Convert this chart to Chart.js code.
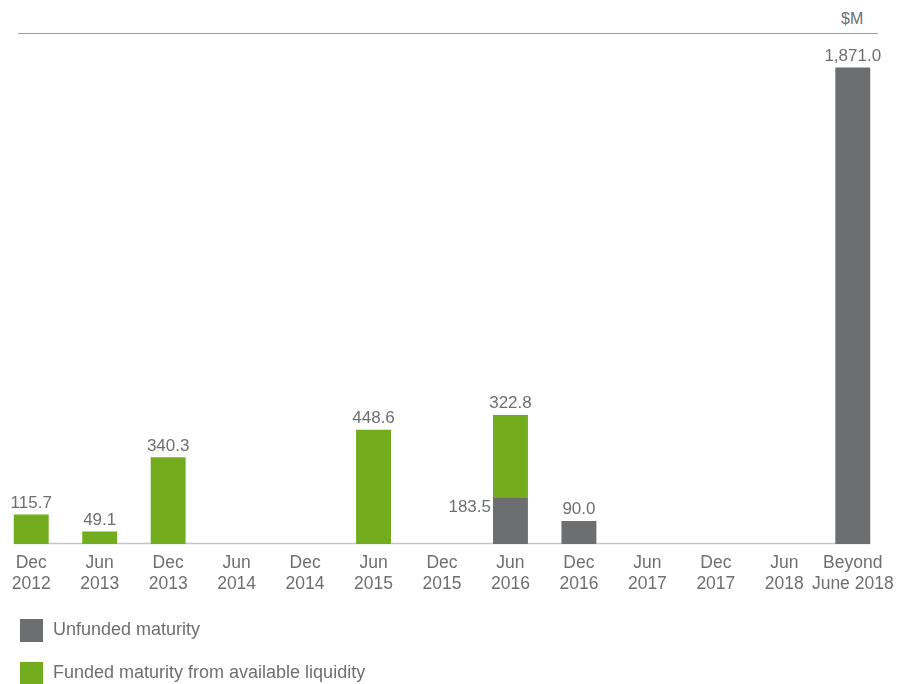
<!DOCTYPE html>
<html lang="en">
<head>
  <meta charset="UTF-8" />
  <title>Debt maturity profile</title>
  <script src="https://cdn.jsdelivr.net/npm/chart.js"></script>
  <style>
    html, body {
      margin: 0;
      padding: 0;
      background: #ffffff;
      overflow: hidden;
      width: 903px;
      height: 684px;
      font-family: "Liberation Sans", Arial, sans-serif;
      color: #6e6f71;
    }

    .unit {
      position: absolute;
      left: 841px;
      top: 10px;
      font-size: 16px;
    }

    .rule {
      position: absolute;
      left: 18px;
      top: 33px;
      width: 860px;
      height: 0;
      border-top: 1.5px solid #9d9ea0;
    }

    .chart-box {
      position: absolute;
      left: -20px;
      top: 0;
      width: 930px;
      height: 684px;
    }

    .legend-item {
      position: absolute;
      left: 20px;
      font-size: 18px;
      white-space: nowrap;
    }

    .legend-item span {
      display: inline-block;
      width: 23px;
      height: 23px;
      vertical-align: middle;
      margin-right: 10px;
    }
  </style>
</head>
<body>
  <div class="unit">$M</div>
  <div class="rule"></div>

  <div class="chart-box">
    <canvas id="maturityChart"></canvas>
  </div>

  <!-- Legend -->
  <div class="legend-item" style="top: 619px;"><span style="background:#6d6e70;"></span>Unfunded maturity</div>
  <div class="legend-item" style="top: 662px;"><span style="background:#74ac1f;"></span>Funded maturity from available liquidity</div>

  <script>
    const periods = [
      ["Dec", "2012"], ["Jun", "2013"], ["Dec", "2013"], ["Jun", "2014"],
      ["Dec", "2014"], ["Jun", "2015"], ["Dec", "2015"], ["Jun", "2016"],
      ["Dec", "2016"], ["Jun", "2017"], ["Dec", "2017"], ["Jun", "2018"],
      ["Beyond", "June 2018"]
    ];

    // $M, unfunded sits at the bottom of each stack
    const unfunded = [null, null, null, null, null, null, null, 183.5, 90.0, null, null, null, 1871.0];
    const funded = [115.7, 49.1, 340.3, null, null, 448.6, null, 322.8, null, null, null, null, null];

    const textColor = "#6e6f71";
    const fontFamily = "'Liberation Sans', Arial, sans-serif";

    // thin baseline running from the first bar to the last one
    const baseLine = {
      id: "baseLine",
      beforeDatasetsDraw(chart) {
        const ctx = chart.ctx;
        const bars = chart.getDatasetMeta(1).data;
        const last = chart.getDatasetMeta(0).data[periods.length - 1];
        const y = chart.scales.y.getPixelForValue(0);
        ctx.save();
        ctx.strokeStyle = "#c4c5c7";
        ctx.lineWidth = 1.5;
        ctx.beginPath();
        ctx.moveTo(bars[0].x - bars[0].width / 2, y - 0.5);
        ctx.lineTo(last.x + last.width / 2, y - 0.5);
        ctx.stroke();
        ctx.restore();
      }
    };

    // value labels above bars (left of the bar when something is stacked on top)
    const valueLabels = {
      id: "valueLabels",
      afterDatasetsDraw(chart) {
        const ctx = chart.ctx;
        ctx.save();
        ctx.fillStyle = textColor;
        ctx.font = "17px " + fontFamily;
        chart.data.datasets.forEach((ds, di) => {
          const meta = chart.getDatasetMeta(di);
          ds.data.forEach((v, i) => {
            if (v === null) return;
            const bar = meta.data[i];
            const coveredAbove = chart.data.datasets.some((o, oi) => oi > di && o.data[i] !== null);
            const text = v.toLocaleString("en-US", { minimumFractionDigits: 1, maximumFractionDigits: 1 });
            if (coveredAbove) {
              ctx.textAlign = "right";
              ctx.textBaseline = "middle";
              ctx.fillText(text, bar.x - bar.width / 2 - 2, bar.y + 10);
            } else {
              ctx.textAlign = "center";
              ctx.textBaseline = "bottom";
              ctx.fillText(text, bar.x, bar.y - 3);
            }
          });
        });
        ctx.restore();
      }
    };

    new Chart(document.getElementById("maturityChart"), {
      type: "bar",
      data: {
        labels: periods,
        datasets: [
          {
            label: "Unfunded maturity",
            data: unfunded,
            backgroundColor: "#6d6e70",
            categoryPercentage: 0.51,
            barPercentage: 1.0
          },
          {
            label: "Funded maturity from available liquidity",
            data: funded,
            backgroundColor: "#74ac1f",
            categoryPercentage: 0.51,
            barPercentage: 1.0
          }
        ]
      },
      options: {
        responsive: true,
        maintainAspectRatio: false,
        animation: false,
        layout: {
          padding: { left: 17, right: 23, top: 60, bottom: 0 }
        },
        plugins: {
          legend: { display: false },
          tooltip: { enabled: false }
        },
        scales: {
          x: {
            stacked: true,
            grid: { display: false, drawTicks: false },
            border: { display: false },
            ticks: {
              color: textColor,
              font: { family: fontFamily, size: 17.5, lineHeight: 1.22 },
              padding: 8,
              autoSkip: false,
              maxRotation: 0
            },
            afterFit(scale) {
              scale.height = 140;
            }
          },
          y: {
            stacked: true,
            display: false,
            min: 0,
            max: 1900
          }
        }
      },
      plugins: [baseLine, valueLabels]
    });
  </script>
</body>
</html>
